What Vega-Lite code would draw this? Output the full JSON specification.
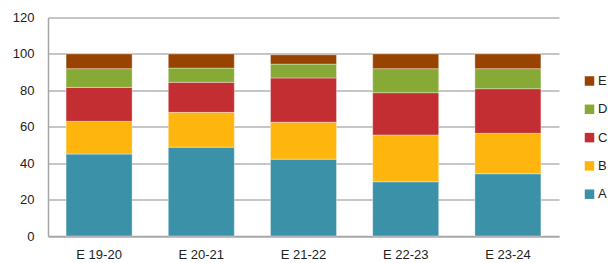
{
  "$schema": "https://vega.github.io/schema/vega-lite/v6.json",
  "autosize": {"type": "none"},
  "width": 511,
  "height": 218.5,
  "padding": {"left": 48, "top": 17.5, "right": 49, "bottom": 27},
  "background": "white",
  "data": {"values": [
    {"period": "E 19-20", "series": "A", "value": 45.0},
    {"period": "E 19-20", "series": "B", "value": 18.0},
    {"period": "E 19-20", "series": "C", "value": 18.6},
    {"period": "E 19-20", "series": "D", "value": 10.3},
    {"period": "E 19-20", "series": "E", "value": 8.1},
    {"period": "E 20-21", "series": "A", "value": 48.8},
    {"period": "E 20-21", "series": "B", "value": 19.1},
    {"period": "E 20-21", "series": "C", "value": 16.5},
    {"period": "E 20-21", "series": "D", "value": 7.8},
    {"period": "E 20-21", "series": "E", "value": 7.8},
    {"period": "E 21-22", "series": "A", "value": 42.2},
    {"period": "E 21-22", "series": "B", "value": 20.3},
    {"period": "E 21-22", "series": "C", "value": 24.3},
    {"period": "E 21-22", "series": "D", "value": 7.6},
    {"period": "E 21-22", "series": "E", "value": 5.1},
    {"period": "E 22-23", "series": "A", "value": 29.8},
    {"period": "E 22-23", "series": "B", "value": 25.7},
    {"period": "E 22-23", "series": "C", "value": 23.2},
    {"period": "E 22-23", "series": "D", "value": 13.2},
    {"period": "E 22-23", "series": "E", "value": 8.1},
    {"period": "E 23-24", "series": "A", "value": 34.2},
    {"period": "E 23-24", "series": "B", "value": 22.2},
    {"period": "E 23-24", "series": "C", "value": 24.5},
    {"period": "E 23-24", "series": "D", "value": 11.0},
    {"period": "E 23-24", "series": "E", "value": 8.1}
  ]},
  "mark": {"type": "bar", "stroke": "#ffffff", "strokeWidth": 0.6, "strokeOpacity": 0.6},
  "encoding": {
    "x": {
      "field": "period", "type": "nominal", "sort": null,
      "scale": {"paddingInner": 0.354, "paddingOuter": 0.177},
      "axis": {"title": null, "labelAngle": 0, "ticks": false, "labelPadding": 12,
               "domainColor": "#a6a6a6", "domainWidth": 1.5,
               "labelFont": "Liberation Sans", "labelFontSize": 13, "labelColor": "#222222"}
    },
    "y": {
      "field": "value", "type": "quantitative", "aggregate": "sum", "stack": "zero",
      "scale": {"domain": [0, 120], "nice": false},
      "axis": {"title": null, "values": [0, 20, 40, 60, 80, 100, 120], "ticks": false,
               "labelPadding": 14, "domainColor": "#a6a6a6", "domainWidth": 1.5,
               "gridColor": "#b3b3b3", "gridWidth": 1.5,
               "labelFont": "Liberation Sans", "labelFontSize": 13, "labelColor": "#222222"}
    },
    "color": {
      "field": "series", "type": "nominal",
      "scale": {"domain": ["E", "D", "C", "B", "A"],
                "range": ["#984300", "#86aa35", "#c22e31", "#feb50e", "#3a91a8"]},
      "legend": {"title": null, "orient": "none", "legendX": 535, "legendY": 57, "padding": 0,
                 "symbolType": "square", "symbolSize": 90, "symbolStrokeWidth": 0,
                 "rowPadding": 14.3, "labelFont": "Liberation Sans", "labelFontSize": 13,
                 "labelColor": "#222222", "labelOffset": 2}
    },
    "order": {"field": "series", "sort": "ascending"}
  },
  "config": {"view": {"stroke": null}}
}
